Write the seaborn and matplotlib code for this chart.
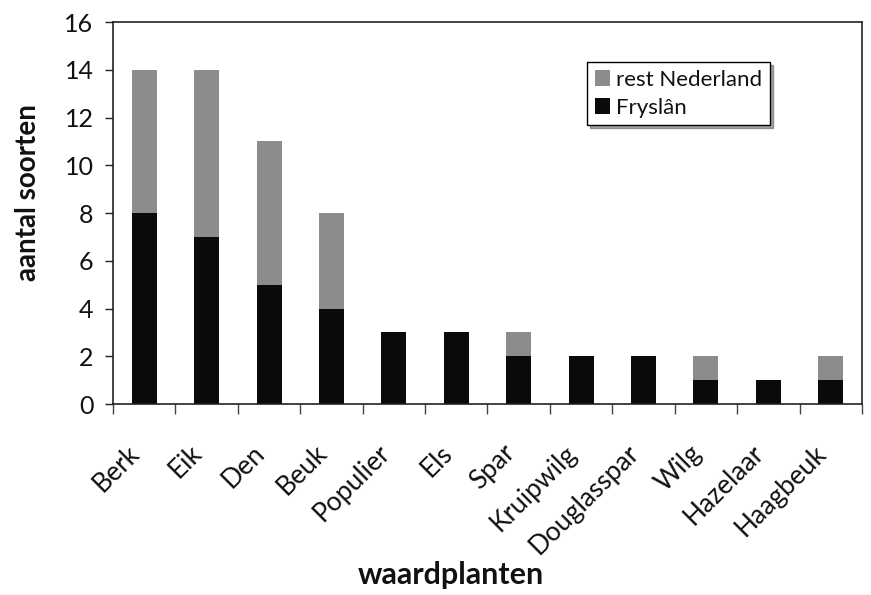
import matplotlib
matplotlib.use("Agg")
import matplotlib.pyplot as plt
import matplotlib.transforms as mtransforms
import seaborn as sns
import pandas as pd
import numpy as np

categories = ["Berk", "Eik", "Den", "Beuk", "Populier", "Els", "Spar",
              "Kruipwilg", "Douglasspar", "Wilg", "Hazelaar", "Haagbeuk"]
fryslan = [8, 7, 5, 4, 3, 3, 2, 2, 2, 1, 1, 1]
rest_nederland = [6, 7, 6, 4, 0, 0, 1, 0, 0, 1, 0, 1]
y_ticks = [0, 2, 4, 6, 8, 10, 12, 14, 16]

sns.set_theme(style="white")
plt.rcParams["font.family"] = ["Lato", "DejaVu Sans"]
plt.rcParams["text.color"] = "#111111"
plt.rcParams["xtick.color"] = "#111111"
plt.rcParams["ytick.color"] = "#111111"
plt.rcParams["axes.labelcolor"] = "#111111"

df = pd.DataFrame({"plant": categories, "Fryslân": fryslan,
                   "rest Nederland": rest_nederland})
df["totaal"] = df["Fryslân"] + df["rest Nederland"]

fig = plt.figure(figsize=(8.71, 5.95), dpi=100)
ax = fig.add_axes([0.1297, 0.321, 0.86, 0.642])

sns.barplot(data=df, x="plant", y="totaal", color="#8c8c8c", width=0.4,
            saturation=1, ax=ax, label="rest Nederland", edgecolor="none")
sns.barplot(data=df, x="plant", y="Fryslân", color="#0a0a0a", width=0.4,
            saturation=1, ax=ax, label="Fryslân", edgecolor="none")

ax.set_xlim(-0.5, len(categories) - 0.5)
ax.set_ylim(0, 16)
ax.set_yticks(y_ticks)
ax.set_yticklabels([str(t) for t in y_ticks], fontsize=18)
ax.tick_params(axis="y", direction="out", length=6, width=1, color="#222222",
               left=True, pad=8)

ax.set_xticks(range(len(categories)))
ax.set_xticklabels(categories, rotation=45, ha="right", va="top",
                   rotation_mode="anchor", fontsize=19)
ax.tick_params(axis="x", length=0, pad=26)
shift = mtransforms.ScaledTranslation(-17 / 100, 0, fig.dpi_scale_trans)
for lbl in ax.get_xticklabels():
    lbl.set_transform(lbl.get_transform() + shift)
# minor ticks at category boundaries
ax.set_xticks(np.arange(-0.5, len(categories) + 0.5, 1), minor=True)
ax.tick_params(axis="x", which="minor", direction="out", length=7, width=1,
               color="#444444", bottom=True)

for s in ax.spines.values():
    s.set_visible(True)
    s.set_color("#222222")
    s.set_linewidth(1.2)

ax.set_xlabel("waardplanten", fontsize=22, fontweight="bold", va="center")
ax.xaxis.set_label_coords((451 - 113) / 749, (404 - 575) / 382)
ax.set_ylabel("aantal soorten", fontsize=20, fontweight="bold", va="center")
ax.yaxis.set_label_coords((28 - 113) / 749, (404 - 193) / 382)

leg = ax.legend(loc="upper left", bbox_to_anchor=(0.633, 0.895), fontsize=16,
                frameon=True, fancybox=False, shadow=True, handlelength=0.7,
                handleheight=0.7, handletextpad=0.25, borderpad=0.35,
                labelspacing=0.35, borderaxespad=0)
leg.get_frame().set_edgecolor("black")
leg.get_frame().set_linewidth(1.0)

fig.savefig("out.png", dpi=100)
